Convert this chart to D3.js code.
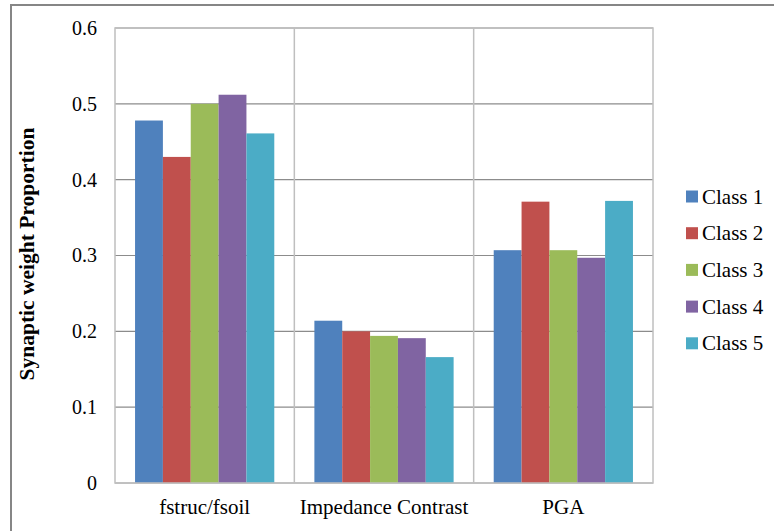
<!DOCTYPE html>
<html><head><meta charset="utf-8">
<script src="https://cdn.jsdelivr.net/npm/d3@7"></script>
<style>body{margin:0;background:#fff}svg{display:block}text{font-family:"Liberation Serif","Times New Roman",serif;fill:#000}</style>
</head><body><svg id="c" width="774" height="531"></svg>
<script>
const categories = ["fstruc/fsoil", "Impedance Contrast", "PGA"];
const seriesNames = ["Class 1", "Class 2", "Class 3", "Class 4", "Class 5"];
const class1 = [0.478, 0.214, 0.307];
const class2 = [0.430, 0.200, 0.371];
const class3 = [0.500, 0.194, 0.307];
const class4 = [0.512, 0.191, 0.297];
const class5 = [0.461, 0.166, 0.372];
const yTicks = [0, 0.1, 0.2, 0.3, 0.4, 0.5, 0.6];
const colors = ["#4F81BD", "#C0504D", "#9BBB59", "#8064A2", "#4BACC6"];
const series = [class1, class2, class3, class4, class5];

const svg = d3.select("#c");
const pL = 115, pR = 653, pT = 28, pB = 483;

// outer frame
svg.append("rect").attr("x", 11).attr("y", 5).attr("width", 800).attr("height", 600)
  .attr("fill", "#fff").attr("stroke", "#868686").attr("stroke-width", 2);

const x0 = d3.scaleBand().domain(categories).range([pL, pR]).paddingInner(0).paddingOuter(0);
const x1 = d3.scaleBand().domain(seriesNames).range([0, x0.bandwidth()]).paddingOuter(0.72).paddingInner(0);
const y = d3.scaleLinear().domain([0, 0.6]).range([pB, pT]);

// horizontal gridlines
svg.append("g").selectAll("line").data(yTicks).join("line")
  .attr("x1", pL).attr("x2", pR).attr("y1", d => y(d)).attr("y2", d => y(d))
  .attr("stroke", "#8c8c8c").attr("stroke-width", 1.2);
// vertical category dividers
svg.append("g").selectAll("line").data(categories.slice(1)).join("line")
  .attr("x1", d => x0(d)).attr("x2", d => x0(d)).attr("y1", pT).attr("y2", pB)
  .attr("stroke", "#bfbfbf").attr("stroke-width", 1.5);

// bars
const g = svg.append("g");
categories.forEach((c, ci) => {
  series.forEach((s, si) => {
    g.append("rect")
      .attr("x", x0(c) + x1(seriesNames[si]))
      .attr("y", y(s[ci]))
      .attr("width", x1.bandwidth())
      .attr("height", y(0) - y(s[ci]))
      .attr("fill", colors[si]);
  });
});

// plot border
svg.append("rect").attr("x", pL).attr("y", pT).attr("width", pR - pL).attr("height", pB - pT)
  .attr("fill", "none").attr("stroke", "#bfbfbf").attr("stroke-width", 1.5);

// y axis labels
const yAxis = d3.axisLeft(y).tickValues(yTicks).tickSize(0).tickPadding(18).tickFormat(d => d === 0 ? "0" : d3.format(".1f")(d));
const ya = svg.append("g").attr("transform", `translate(${pL},0)`).call(yAxis);
ya.select(".domain").remove();
ya.selectAll("text").style("font-family", '"Liberation Serif",serif').style("font-size", "20px").attr("fill", "#000");

// x axis labels
const xAxis = d3.axisBottom(x0).tickSize(0).tickPadding(16);
const xa = svg.append("g").attr("transform", `translate(0,${pB})`).call(xAxis);
xa.select(".domain").remove();
xa.selectAll("text").style("font-family", '"Liberation Serif",serif').style("font-size", "21px").attr("fill", "#000");

// y title
svg.append("text").attr("transform", "translate(27,254) rotate(-90)")
  .attr("text-anchor", "middle").attr("dominant-baseline", "central")
  .style("font-size", "21.5px").style("font-weight", "bold").text("Synaptic weight Proportion");

// legend
const leg = svg.append("g");
seriesNames.forEach((n, i) => {
  const ly = 196.5 + i * 36.7;
  leg.append("rect").attr("x", 686).attr("y", ly - 6).attr("width", 12).attr("height", 12).attr("fill", colors[i]);
  leg.append("text").attr("x", 702).attr("y", ly).attr("dominant-baseline", "central")
    .style("font-size", "21px").text(n);
});
</script></body></html>
